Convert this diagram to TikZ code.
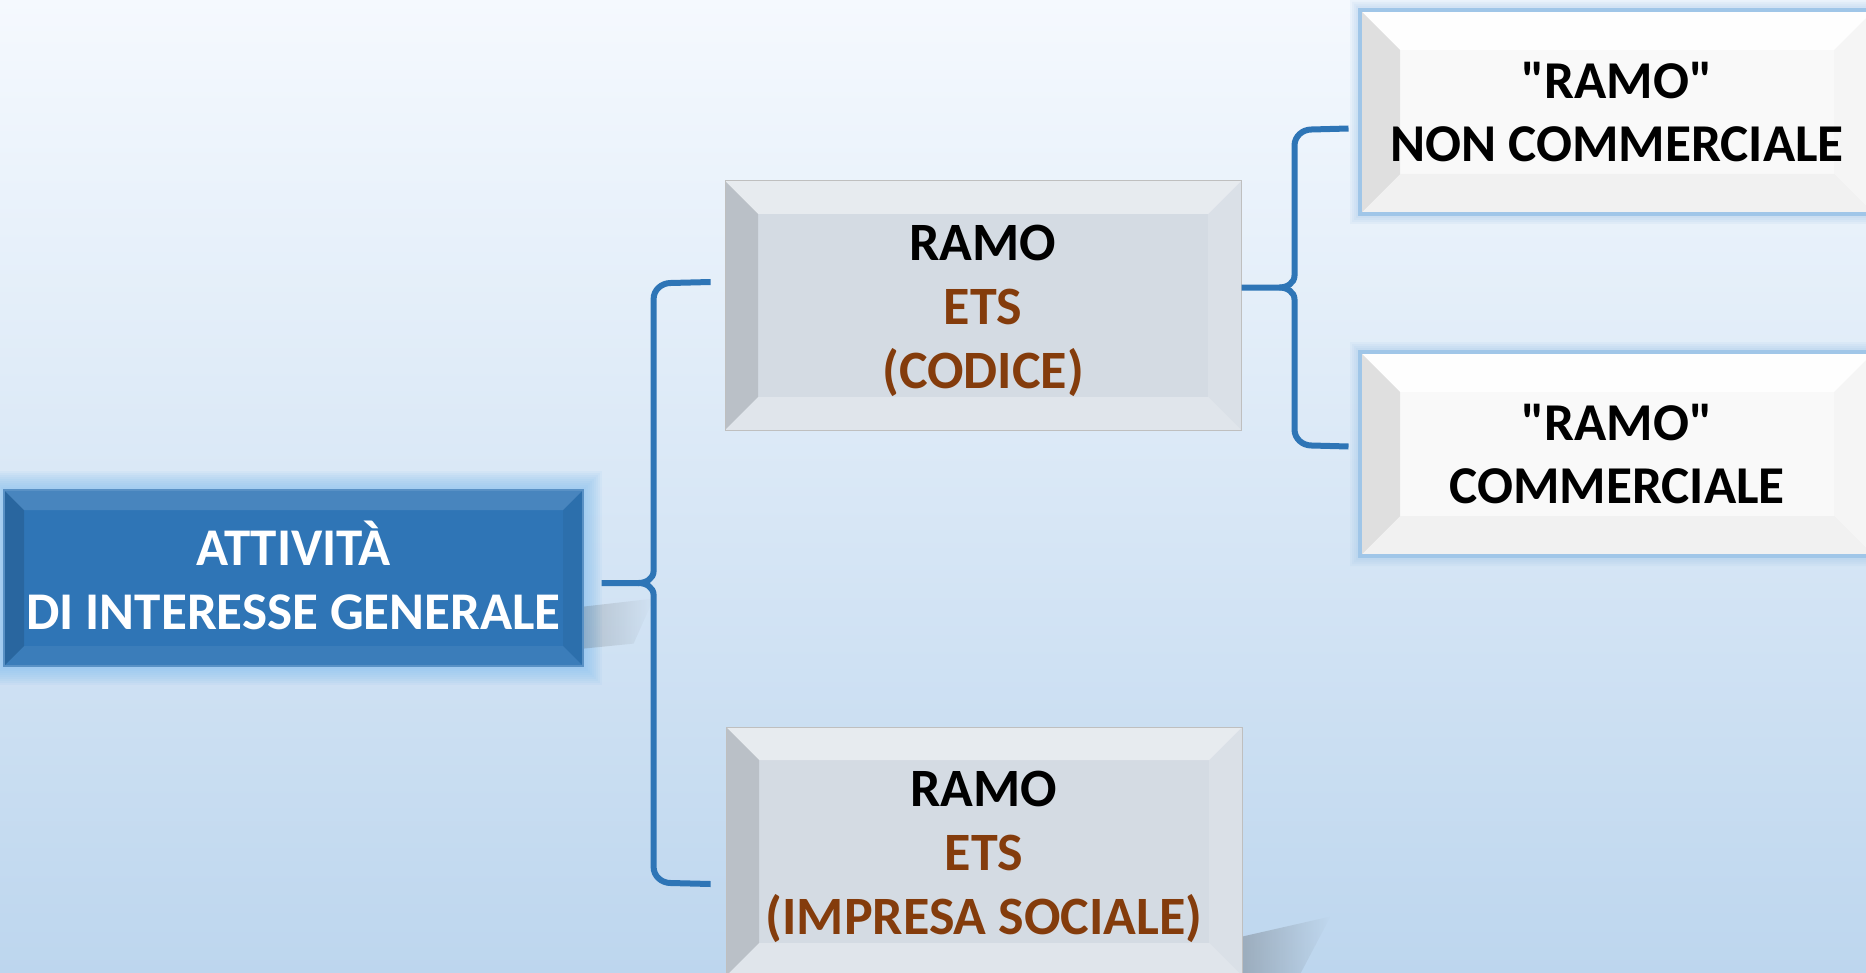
\documentclass[tikz,border=0pt]{standalone}
\usepackage{fontspec}
\setmainfont{Carlito}[Ligatures=TeXOff]
\usetikzlibrary{positioning, calc, fadings, backgrounds}

\definecolor{bgtop}{RGB}{245,249,254}
\definecolor{bgbot}{RGB}{189,214,238}
\definecolor{actblue}{RGB}{47,117,182}
\definecolor{glowblue}{RGB}{130,190,240}
\definecolor{ramogray}{RGB}{212,219,227}
\definecolor{etsbrown}{RGB}{132,60,12}
\definecolor{bracecol}{RGB}{46,117,182}
\definecolor{rimblue}{RGB}{160,198,232}
\definecolor{paper}{RGB}{249,249,249}

\tikzset{
  bevel/.style n args={5}{path picture={
    \path (path picture bounding box.north west) coordinate (pnw)
          (path picture bounding box.north east) coordinate (pne)
          (path picture bounding box.south west) coordinate (psw)
          (path picture bounding box.south east) coordinate (pse);
    \fill[#2] (pnw) -- (pne) -- ($(pne)+(-#1,#1)$) -- ($(pnw)+(#1,#1)$) -- cycle;
    \fill[#3] (pnw) -- ($(pnw)+(#1,#1)$) -- ($(psw)+(#1,-#1)$) -- (psw) -- cycle;
    \fill[#4] (psw) -- ($(psw)+(#1,-#1)$) -- ($(pse)+(-#1,-#1)$) -- (pse) -- cycle;
    \fill[#5] (pne) -- (pse) -- ($(pse)+(-#1,-#1)$) -- ($(pne)+(-#1,#1)$) -- cycle;
  }}
}

\begin{document}
\begin{tikzpicture}[x=0.5pt, y=-0.5pt,
    actbox/.style={fill=actblue, draw=actblue!80!white, line width=0.6pt,
      minimum width=289.5pt, minimum height=88pt, inner sep=0pt, align=center,
      text=white, font=\fontsize{26.5}{32}\selectfont\bfseries,
      execute at end node={\rule[-2.5pt]{0pt}{0pt}},
      bevel={20}{white,opacity=0.12}{black,opacity=0.12}{white,opacity=0.06}{black,opacity=0.05}},
    ramobox/.style={fill=ramogray, draw=black!25, line width=0.5pt,
      minimum width=258pt, minimum height=124.5pt, inner sep=0pt, align=center,
      font=\fontsize{27}{32}\selectfont\bfseries,
      execute at end node={\rule{0pt}{87pt}},
      bevel={33}{white,opacity=0.45}{black,opacity=0.12}{white,opacity=0.3}{white,opacity=0.15}},
    subbox/.style={fill=paper, draw=rimblue, line width=2pt,
      minimum width=257pt, minimum height=102pt, inner sep=0pt, align=center,
      font=\fontsize{26.6}{31.5}\selectfont\bfseries,
      bevel={40}{white,opacity=0.9}{black,opacity=0.1}{black,opacity=0.03}{black,opacity=0.015}},
    brace/.style={draw=bracecol, line width=3pt}
  ]
\useasboundingbox (0,0) rectangle (1866,973);

% boxes
\node[actbox] (act) at (293.5,578) {ATTIVITÀ\\DI INTERESSE GENERALE};
\node[ramobox] (codice) at (983,305.5) {RAMO\\\textcolor{etsbrown}{ETS}\\\textcolor{etsbrown}{(CODICE)}};
\node[ramobox] (impresa) at (984,851.5) {RAMO\\\textcolor{etsbrown}{ETS}\\\textcolor{etsbrown}{(IMPRESA SOCIALE)}};
\node[subbox] (noncomm) at (1617,112) {"RAMO"\\NON COMMERCIALE};
\node[subbox] (comm) at (1617,454) {"RAMO"\\COMMERCIALE};

\begin{scope}[on background layer]
  \shade[top color=bgtop, bottom color=bgbot] (0,0) rectangle (1866,973);
  % halo
  \foreach \g in {1,...,9}
    \fill[glowblue, opacity=0.09] ($(act.north west)+(-2*\g,-2*\g)$) rectangle ($(act.south east)+(2*\g,2*\g)$);
  \foreach \g in {1,...,4}
    \fill[rimblue, opacity=0.12] ($(noncomm.north west)+(-2*\g,-2*\g)$) rectangle ($(noncomm.south east)+(2*\g,2*\g)$)
      ($(comm.north west)+(-2*\g,-2*\g)$) rectangle ($(comm.south east)+(2*\g,2*\g)$);
  % shadows
  \fill[black!70, opacity=0.22, path fading=east] ($(act.south east)+(0,-60)$) -- ++(70,-8) -- ++(-20,45) -- ++(-50,5) -- cycle;
  \fill[black!70, opacity=0.3, path fading=east] ($(impresa.south east)+(0,-40)$) -- ++(88,-20) -- ++(-30,57) -- ++(-58,0) -- cycle;
\end{scope}

% braces
\coordinate (b1) at ($(act.east)+(18,5)$);
\draw[brace] (b1) -- ++(37,0) to[out=0,in=-90] ++(15,-12) -- ++(0,-272) to[out=90,in=180] ++(17,-16) -- ++(40,-1);
\draw[brace] (b1) ++(37,0) to[out=0,in=90] ++(15,12) -- ++(0,272) to[out=-90,in=180] ++(17,16) -- ++(40,1);

\coordinate (b2) at ($(codice.east)+(0,-18)$);
\draw[brace] (b2) -- ++(38,0) to[out=0,in=-90] ++(15,-12) -- ++(0,-130) to[out=90,in=180] ++(17,-16) -- ++(37,-1);
\draw[brace] (b2) ++(38,0) to[out=0,in=90] ++(15,12) -- ++(0,130) to[out=-90,in=180] ++(17,16) -- ++(37,1);
\end{tikzpicture}
\end{document}
